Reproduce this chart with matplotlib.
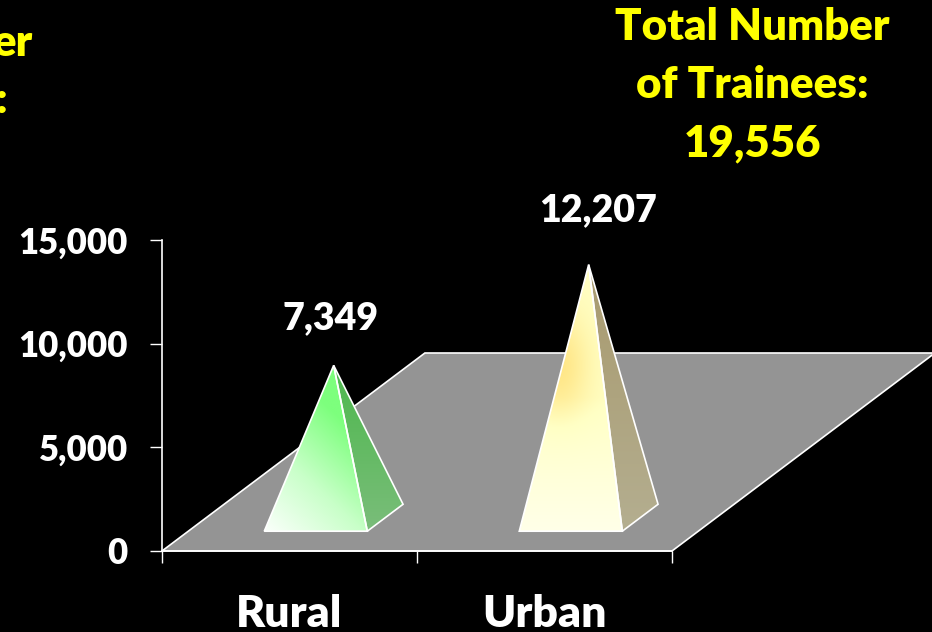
import matplotlib
matplotlib.use("Agg")
import matplotlib.pyplot as plt
import numpy as np
from matplotlib.colors import LinearSegmentedColormap
from matplotlib.patches import Polygon

categories = ["Rural", "Urban"]
trainees = [7349, 12207]
value_labels = ["7,349", "12,207"]
y_ticks = [0, 5000, 10000, 15000]
y_tick_labels = ["0", "5,000", "10,000", "15,000"]

plt.rcParams['font.family'] = ['Lato', 'DejaVu Sans']
plt.rcParams['font.weight'] = 'heavy'

W, H = 932, 632
DEPTH_X = 1.031     # floor depth in category units
DEPTH_Y = 9550      # floor depth in value units
HALF_W = 0.202


def project(x, y, depth):
    return (x + depth * DEPTH_X, y + depth * DEPTH_Y)


def gradient_face(ax, points, colors, tfunc):
    xs = [p[0] for p in points]
    ys = [p[1] for p in points]
    u, v = np.meshgrid(np.linspace(0, 1, 200), np.linspace(0, 1, 300))
    cmap = LinearSegmentedColormap.from_list("face", colors)
    im = ax.imshow(cmap(np.clip(tfunc(u, v), 0, 1)), origin="lower", aspect="auto", zorder=3,
                   extent=(min(xs), max(xs), min(ys), max(ys)), interpolation="bilinear")
    face = Polygon(points, closed=True, facecolor="none", edgecolor="white", linewidth=1.2, zorder=4)
    ax.add_patch(face)
    clip = Polygon(points, closed=True, transform=ax.transData)
    im.set_clip_path(clip)


def green_front(u, v):
    return 0.95 * (0.55 * u + 0.95 * v)


def green_side(u, v):
    return 1 - v


def yellow_front(u, v):
    # soft highlight on the left of the face, stronger towards the tip
    spot = np.exp(-(((u - 0.38) / 0.3) ** 2 + ((v - 0.62) / 0.2) ** 2))
    return 0.5 * np.clip(v / 0.5, 0, 1) + 0.42 * spot


def yellow_side(u, v):
    return 1 - v


faces = [
    (["#FBFFFB", "#C8FFC8", "#7DFF7D"], green_front, ["#4DB84D", "#7ABD7A"], green_side),
    (["#FFFFE8", "#FFFFC4", "#FFE27C"], yellow_front, ["#A89A6E", "#B4AE90"], yellow_side),
]

fig = plt.figure(figsize=(W / 100, H / 100), dpi=100, facecolor="black")
ax = fig.add_axes([162 / W, (H - 551) / H, 510 / W, 311 / H], facecolor="none")

# floor
floor = [project(0, 0, 0), project(2, 0, 0), project(2, 0, 1), project(0, 0, 1)]
ax.add_patch(Polygon(floor, closed=True, facecolor="#949494", edgecolor="white", linewidth=1.2,
                     clip_on=False, zorder=1))

positions = np.arange(len(categories)) + 0.5
for i, value in enumerate(trainees):
    x = positions[i]
    fl = project(x - HALF_W, 0, 0.1)
    fr = project(x + HALF_W, 0, 0.1)
    br = project(x + HALF_W, 0, 0.236)
    apex = project(x, value, 0.168)
    front_cols, front_t, side_cols, side_t = faces[i]
    gradient_face(ax, [br, fr, apex], side_cols, side_t)
    gradient_face(ax, [fl, fr, apex], front_cols, front_t)
    ax.annotate(value_labels[i], xy=apex, xytext=((-3, 47) if i == 0 else (9, 54)), textcoords="offset pixels",
                ha="center", va="center", color="white", fontsize=27, fontweight="heavy", zorder=5)

ax.set_xlim(0, 2)
ax.set_ylim(0, 15000)
for side in ["top", "right"]:
    ax.spines[side].set_visible(False)
for side in ["left", "bottom"]:
    ax.spines[side].set_color("white")
    ax.spines[side].set_linewidth(1.2)
    ax.spines[side].set_zorder(2)

ax.set_yticks(y_ticks)
ax.set_yticklabels(y_tick_labels, color="white", fontsize=25, fontweight="heavy")
ax.set_xticks([0, 1, 2])
ax.set_xticklabels([])
ax.set_xticks(positions, labels=categories, minor=True)
ax.tick_params(axis="both", which="major", length=8.5, width=1, color="white")
ax.tick_params(axis="y", which="major", pad=16)
ax.tick_params(axis="x", which="minor", length=0, labelcolor="white", labelsize=32, pad=31)
for lab in ax.get_xticklabels(minor=True):
    lab.set_fontweight("heavy")

fig.text(752 / W, 1 - 85 / H, "Total Number\nof Trainees:\n19,556", color="#FFFF00", fontsize=31.5,
         fontweight="heavy", ha="center", va="center", linespacing=1.55)
fig.text(33 / W, 1 - 56 / H, "er", color="#FFFF00", fontsize=31.5, fontweight="heavy", ha="right", va="baseline")
fig.text(8 / W, 1 - 113 / H, ":", color="#FFFF00", fontsize=31.5, fontweight="heavy", ha="right", va="baseline")

fig.savefig("out.png", dpi=100, facecolor="black")
